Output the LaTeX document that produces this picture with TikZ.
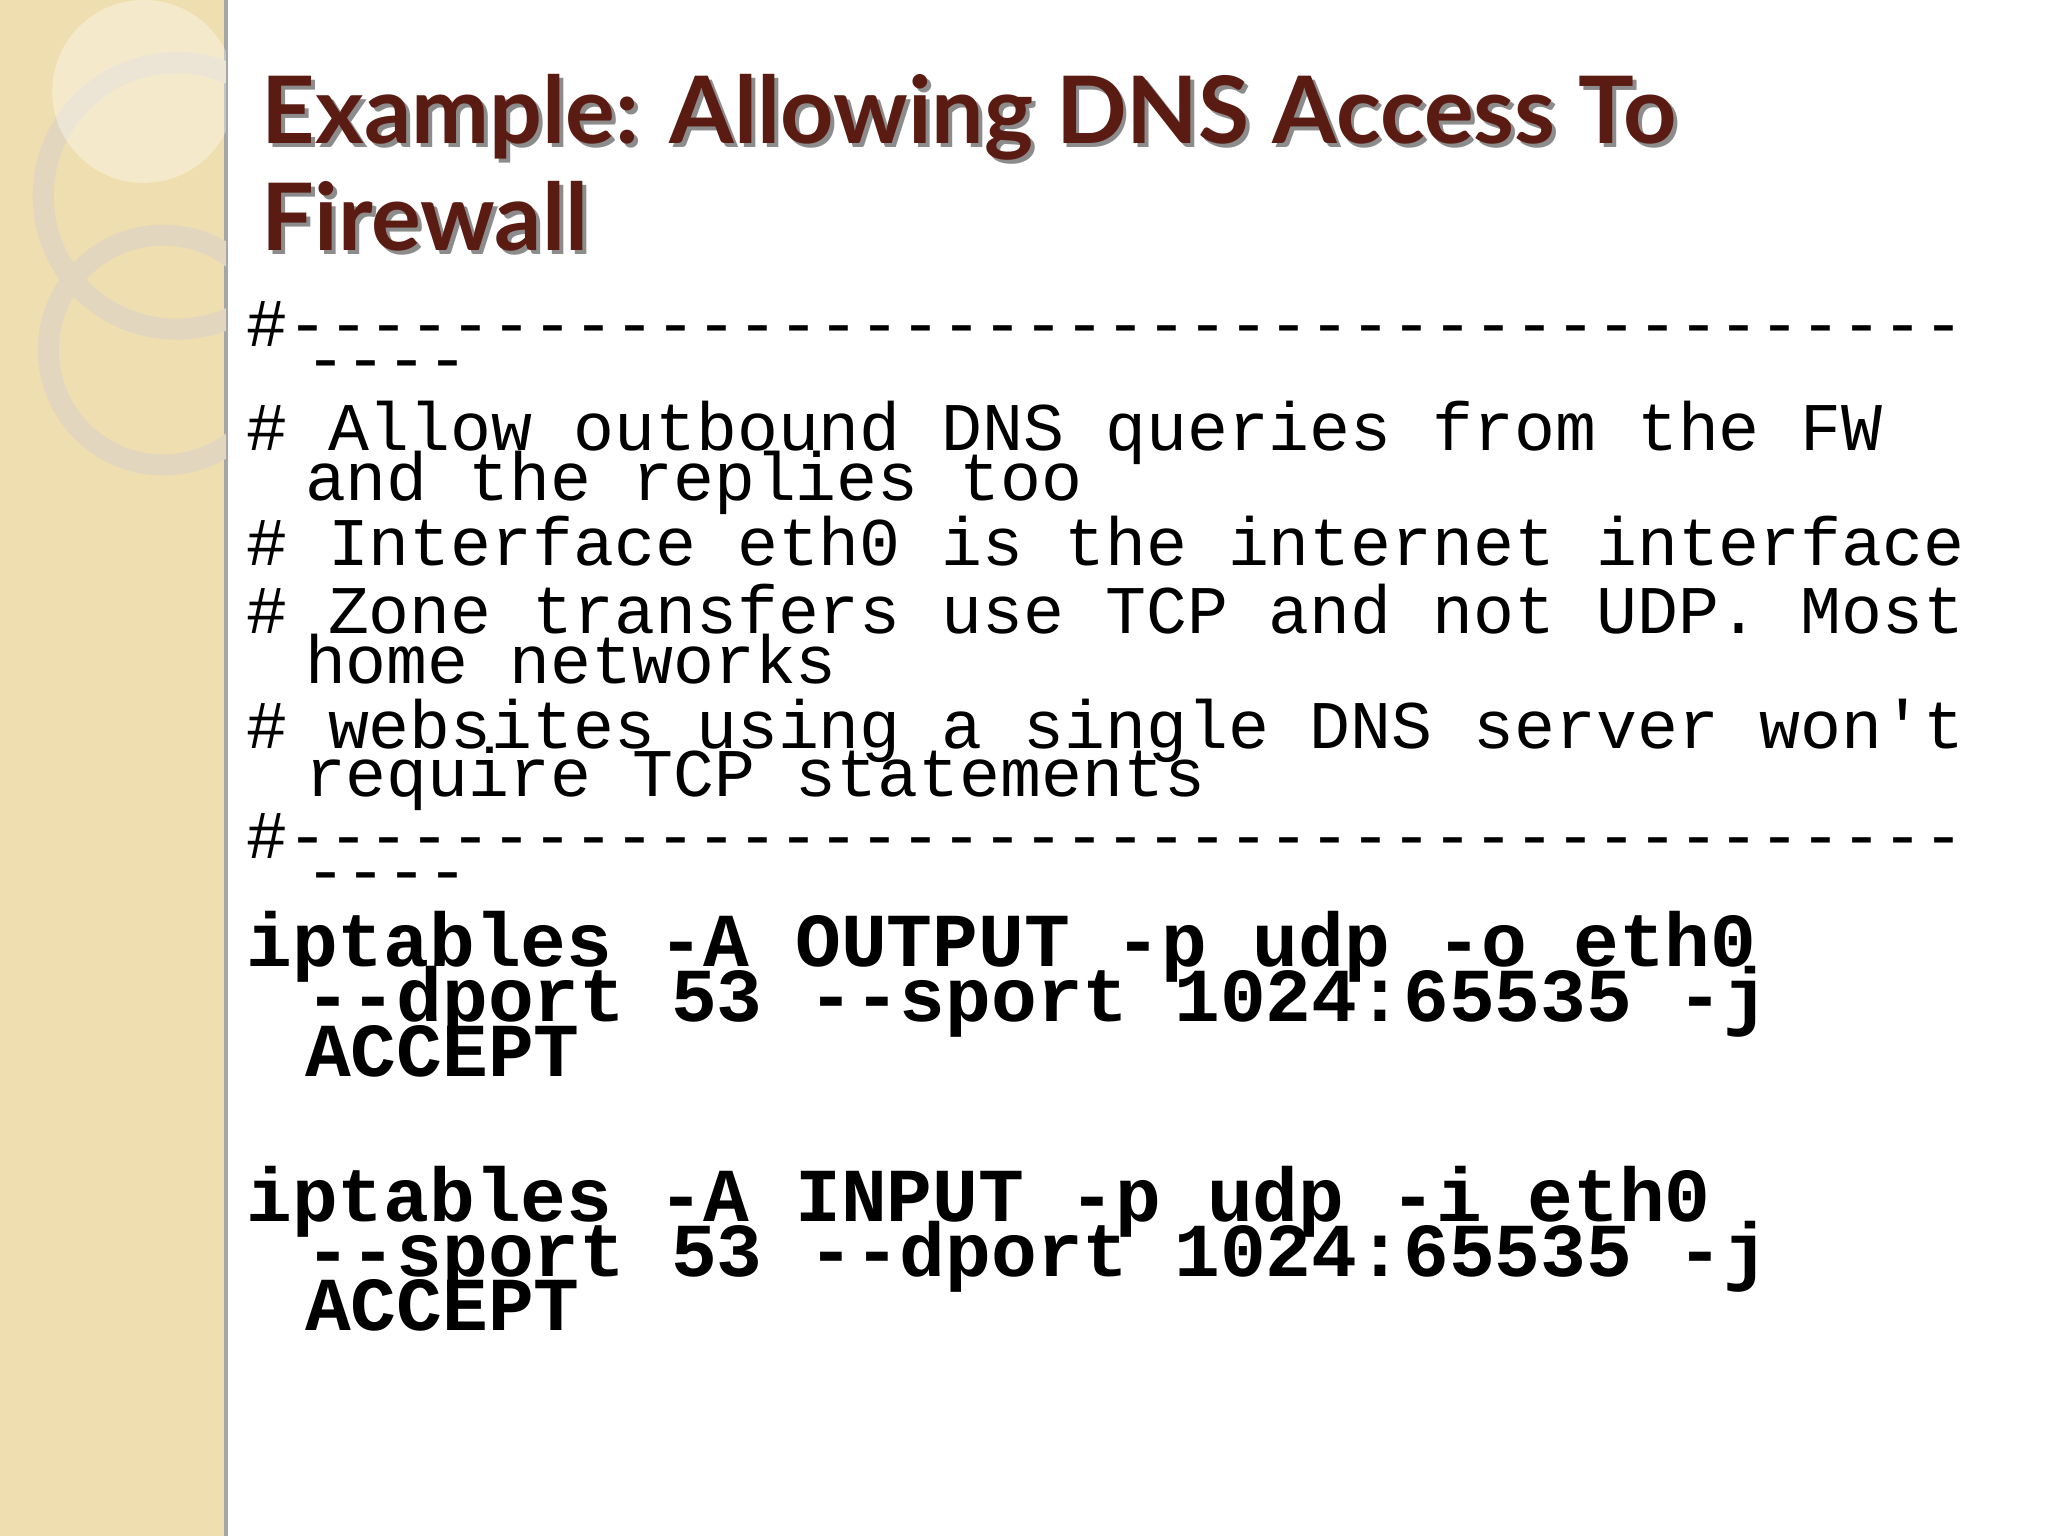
\documentclass[tikz,border=0pt]{standalone}
\usepackage{fontspec}
\setmainfont{Lato}
\setmonofont{Liberation Mono}
\definecolor{strip}{HTML}{EFDFB0}
\definecolor{ttl}{HTML}{5A1C12}
\definecolor{ring}{HTML}{E2D6BF}
\tikzset{
 cmline/.style={anchor=base west,inner sep=0pt,font=\fontsize{19.4}{19.4}\selectfont\ttfamily},
 cbline/.style={anchor=base west,inner sep=0pt,font=\fontsize{21.7}{21.7}\selectfont\ttfamily\bfseries},
 ttline/.style={anchor=base west,inner sep=0pt,font=\fontsize{26.5}{26.5}\selectfont\bfseries,text=ttl},
 tsline/.style={anchor=base west,inner sep=0pt,font=\fontsize{26.5}{26.5}\selectfont\bfseries,text=black!45}
}
\begin{document}
\begin{tikzpicture}[x=0.01306cm,y=-0.01306cm]
\useasboundingbox (0,0) rectangle (1568,1176);
\fill[white] (0,0) rectangle (1568,1176);
\fill[strip] (0,0) rectangle (173,1176);
\draw[black!35,line width=1pt] (173,0) -- (173,1176);
\begin{scope}
\clip (0,0) rectangle (173,1176);
\draw[ring,line width=6pt] (135,150) circle (102);
\draw[ring,line width=6pt] (125,268) circle (88);
\fill[white,opacity=0.35] (110,70) circle (70);
\end{scope}
\node[tsline] at (203,113) {Example: Allowing DNS Access To};
\node[ttline] (t1) at (200,110) {Example: Allowing DNS Access To};
\node[tsline] at (203,195) {Firewall};
\node[ttline] (t2) at (200,192) {Firewall};
\node[cmline] (c1) at (188,265) {\#-----------------------------------------};
\node[cmline] (c2) at (233,292) {----};
\node[cmline] (c3) at (188,345) {\# Allow outbound DNS queries from the FW};
\node[cmline] (c4) at (233,383) {and the replies too};
\node[cmline] (c5) at (188,433) {\# Interface eth0 is the internet interface};
\node[cmline] (c6) at (188,485) {\# Zone transfers use TCP and not UDP. Most};
\node[cmline] (c7) at (233,523) {home networks};
\node[cmline] (c8) at (188,573) {\# websites using a single DNS server won't};
\node[cmline] (c9) at (233,610) {require TCP statements};
\node[cmline] (c10) at (188,657) {\#-----------------------------------------};
\node[cmline] (c11) at (233,684) {----};
\node[cbline] (b1) at (188,740) {iptables -A OUTPUT -p udp -o eth0};
\node[cbline] (b2) at (233,782) {--dport 53 --sport 1024:65535 -j};
\node[cbline] (b3) at (233,824) {ACCEPT};
\node[cbline] (b4) at (188,935) {iptables -A INPUT -p udp -i eth0};
\node[cbline] (b5) at (233,977) {--sport 53 --dport 1024:65535 -j};
\node[cbline] (b6) at (233,1019) {ACCEPT};
\end{tikzpicture}
\end{document}
